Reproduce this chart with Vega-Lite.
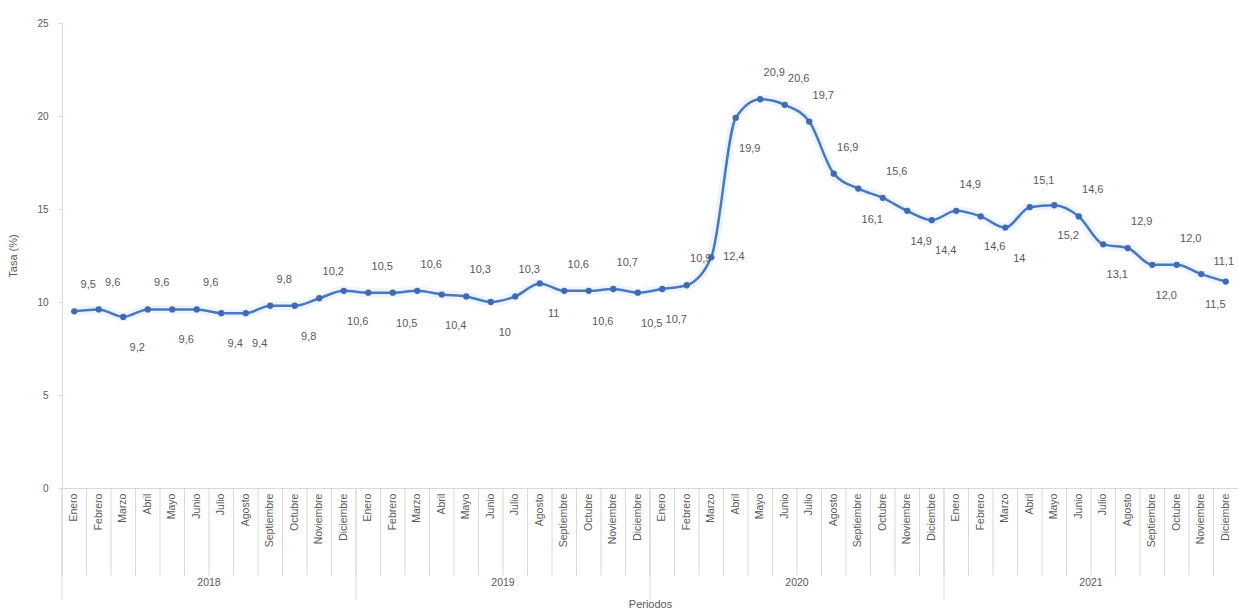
{
  "$schema": "https://vega.github.io/schema/vega-lite/v6.json",
  "width": 1176,
  "height": 465,
  "padding": {"left": 62, "top": 23, "right": 0, "bottom": 128},
  "autosize": {"type": "none"},
  "background": "white",
  "config": {
    "view": {"stroke": null},
    "font": "Liberation Sans",
    "axis": {"labelColor": "#595959", "titleColor": "#595959", "titleFontWeight": "normal", "labelFontSize": 10, "titleFontSize": 11}
  },
  "data": {
    "values": [
      {"periodo": "2018-01", "anio": "2018", "mes": "Enero", "lado": "arriba", "tasa": 9.5, "etiqueta": "9,5"},
      {"periodo": "2018-02", "anio": "2018", "mes": "Febrero", "lado": "arriba", "tasa": 9.6, "etiqueta": "9,6"},
      {"periodo": "2018-03", "anio": "2018", "mes": "Marzo", "lado": "abajo", "tasa": 9.2, "etiqueta": "9,2"},
      {"periodo": "2018-04", "anio": "2018", "mes": "Abril", "lado": "arriba", "tasa": 9.6, "etiqueta": "9,6"},
      {"periodo": "2018-05", "anio": "2018", "mes": "Mayo", "lado": "abajo", "tasa": 9.6, "etiqueta": "9,6"},
      {"periodo": "2018-06", "anio": "2018", "mes": "Junio", "lado": "arriba", "tasa": 9.6, "etiqueta": "9,6"},
      {"periodo": "2018-07", "anio": "2018", "mes": "Julio", "lado": "abajo", "tasa": 9.4, "etiqueta": "9,4"},
      {"periodo": "2018-08", "anio": "2018", "mes": "Agosto", "lado": "abajo", "tasa": 9.4, "etiqueta": "9,4"},
      {"periodo": "2018-09", "anio": "2018", "mes": "Septiembre", "lado": "arriba", "tasa": 9.8, "etiqueta": "9,8"},
      {"periodo": "2018-10", "anio": "2018", "mes": "Octubre", "lado": "abajo", "tasa": 9.8, "etiqueta": "9,8"},
      {"periodo": "2018-11", "anio": "2018", "mes": "Noviembre", "lado": "arriba", "tasa": 10.2, "etiqueta": "10,2"},
      {"periodo": "2018-12", "anio": "2018", "mes": "Diciembre", "lado": "abajo", "tasa": 10.6, "etiqueta": "10,6"},
      {"periodo": "2019-01", "anio": "2019", "mes": "Enero", "lado": "arriba", "tasa": 10.5, "etiqueta": "10,5"},
      {"periodo": "2019-02", "anio": "2019", "mes": "Febrero", "lado": "abajo", "tasa": 10.5, "etiqueta": "10,5"},
      {"periodo": "2019-03", "anio": "2019", "mes": "Marzo", "lado": "arriba", "tasa": 10.6, "etiqueta": "10,6"},
      {"periodo": "2019-04", "anio": "2019", "mes": "Abril", "lado": "abajo", "tasa": 10.4, "etiqueta": "10,4"},
      {"periodo": "2019-05", "anio": "2019", "mes": "Mayo", "lado": "arriba", "tasa": 10.3, "etiqueta": "10,3"},
      {"periodo": "2019-06", "anio": "2019", "mes": "Junio", "lado": "abajo", "tasa": 10.0, "etiqueta": "10"},
      {"periodo": "2019-07", "anio": "2019", "mes": "Julio", "lado": "arriba", "tasa": 10.3, "etiqueta": "10,3"},
      {"periodo": "2019-08", "anio": "2019", "mes": "Agosto", "lado": "abajo", "tasa": 11.0, "etiqueta": "11"},
      {"periodo": "2019-09", "anio": "2019", "mes": "Septiembre", "lado": "arriba", "tasa": 10.6, "etiqueta": "10,6"},
      {"periodo": "2019-10", "anio": "2019", "mes": "Octubre", "lado": "abajo", "tasa": 10.6, "etiqueta": "10,6"},
      {"periodo": "2019-11", "anio": "2019", "mes": "Noviembre", "lado": "arriba", "tasa": 10.7, "etiqueta": "10,7"},
      {"periodo": "2019-12", "anio": "2019", "mes": "Diciembre", "lado": "abajo", "tasa": 10.5, "etiqueta": "10,5"},
      {"periodo": "2020-01", "anio": "2020", "mes": "Enero", "lado": "abajo", "tasa": 10.7, "etiqueta": "10,7"},
      {"periodo": "2020-02", "anio": "2020", "mes": "Febrero", "lado": "arriba", "tasa": 10.9, "etiqueta": "10,9"},
      {"periodo": "2020-03", "anio": "2020", "mes": "Marzo", "lado": "derecha", "tasa": 12.4, "etiqueta": "12,4"},
      {"periodo": "2020-04", "anio": "2020", "mes": "Abril", "lado": "abajo", "tasa": 19.9, "etiqueta": "19,9"},
      {"periodo": "2020-05", "anio": "2020", "mes": "Mayo", "lado": "arriba", "tasa": 20.9, "etiqueta": "20,9"},
      {"periodo": "2020-06", "anio": "2020", "mes": "Junio", "lado": "arriba", "tasa": 20.6, "etiqueta": "20,6"},
      {"periodo": "2020-07", "anio": "2020", "mes": "Julio", "lado": "arriba", "tasa": 19.7, "etiqueta": "19,7"},
      {"periodo": "2020-08", "anio": "2020", "mes": "Agosto", "lado": "arriba", "tasa": 16.9, "etiqueta": "16,9"},
      {"periodo": "2020-09", "anio": "2020", "mes": "Septiembre", "lado": "abajo", "tasa": 16.1, "etiqueta": "16,1"},
      {"periodo": "2020-10", "anio": "2020", "mes": "Octubre", "lado": "arriba", "tasa": 15.6, "etiqueta": "15,6"},
      {"periodo": "2020-11", "anio": "2020", "mes": "Noviembre", "lado": "abajo", "tasa": 14.9, "etiqueta": "14,9"},
      {"periodo": "2020-12", "anio": "2020", "mes": "Diciembre", "lado": "abajo", "tasa": 14.4, "etiqueta": "14,4"},
      {"periodo": "2021-01", "anio": "2021", "mes": "Enero", "lado": "arriba", "tasa": 14.9, "etiqueta": "14,9"},
      {"periodo": "2021-02", "anio": "2021", "mes": "Febrero", "lado": "abajo", "tasa": 14.6, "etiqueta": "14,6"},
      {"periodo": "2021-03", "anio": "2021", "mes": "Marzo", "lado": "abajo", "tasa": 14.0, "etiqueta": "14"},
      {"periodo": "2021-04", "anio": "2021", "mes": "Abril", "lado": "arriba", "tasa": 15.1, "etiqueta": "15,1"},
      {"periodo": "2021-05", "anio": "2021", "mes": "Mayo", "lado": "abajo", "tasa": 15.2, "etiqueta": "15,2"},
      {"periodo": "2021-06", "anio": "2021", "mes": "Junio", "lado": "arriba", "tasa": 14.6, "etiqueta": "14,6"},
      {"periodo": "2021-07", "anio": "2021", "mes": "Julio", "lado": "abajo", "tasa": 13.1, "etiqueta": "13,1"},
      {"periodo": "2021-08", "anio": "2021", "mes": "Agosto", "lado": "arriba", "tasa": 12.9, "etiqueta": "12,9"},
      {"periodo": "2021-09", "anio": "2021", "mes": "Septiembre", "lado": "abajo", "tasa": 12.0, "etiqueta": "12,0"},
      {"periodo": "2021-10", "anio": "2021", "mes": "Octubre", "lado": "arriba", "tasa": 12.0, "etiqueta": "12,0"},
      {"periodo": "2021-11", "anio": "2021", "mes": "Noviembre", "lado": "abajo", "tasa": 11.5, "etiqueta": "11,5"},
      {"periodo": "2021-12", "anio": "2021", "mes": "Diciembre", "lado": "encima", "tasa": 11.1, "etiqueta": "11,1"}
    ]
  },
  "encoding": {
    "x": {
      "field": "periodo",
      "type": "ordinal",
      "sort": null,
      "scale": {"type": "band", "paddingInner": 0, "paddingOuter": 0},
      "axis": {
        "title": "Periodos",
        "titlePadding": 110,
        "labels": false,
        "ticks": false,
        "domainColor": "#d9d9d9"
      }
    },
    "y": {
      "field": "tasa",
      "type": "quantitative",
      "scale": {"domain": [0, 25], "nice": false, "zero": false},
      "axis": {
        "title": "Tasa (%)",
        "tickCount": 5,
        "grid": false,
        "tickSize": 4,
        "tickColor": "#d9d9d9",
        "domainColor": "#d9d9d9",
        "labelPadding": 10,
        "titlePadding": 18
      }
    }
  },
  "layer": [
    {
      "mark": {"type": "rule", "color": "#d9d9d9", "strokeWidth": 1},
      "encoding": {
        "x": {"field": "periodo", "type": "ordinal", "bandPosition": 0},
        "y": {"datum": 0},
        "y2": {"datum": -4.7}
      }
    },
    {
      "transform": [{"filter": "datum.mes == 'Enero'"}],
      "mark": {"type": "rule", "color": "#d9d9d9", "strokeWidth": 1},
      "encoding": {
        "x": {"field": "periodo", "type": "ordinal", "bandPosition": 0},
        "y": {"datum": 0},
        "y2": {"datum": -6}
      }
    },
    {
      "mark": {"type": "text", "angle": 270, "align": "right", "baseline": "middle", "color": "#595959", "fontSize": 10.5},
      "encoding": {
        "y": {"datum": -0.3},
        "text": {"field": "mes"}
      }
    },
    {
      "transform": [{"filter": "datum.mes == 'Julio'"}],
      "mark": {"type": "text", "color": "#595959", "fontSize": 10.5, "baseline": "middle"},
      "encoding": {
        "x": {"field": "periodo", "type": "ordinal", "bandPosition": 0},
        "y": {"datum": -5.1},
        "text": {"field": "anio"}
      }
    },
    {
      "mark": {"type": "line", "interpolate": "monotone", "color": "#9dc3e6", "strokeWidth": 9, "opacity": 0.18}
    },
    {
      "mark": {"type": "line", "interpolate": "monotone", "color": "#4a78c2", "strokeWidth": 2.5}
    },
    {
      "mark": {"type": "point", "filled": true, "color": "#3e6bb4", "size": 40, "opacity": 1}
    },
    {
      "transform": [{"filter": "datum.lado == 'arriba'"}],
      "mark": {"type": "text", "color": "#595959", "fontSize": 11, "dx": 14, "dy": -26},
      "encoding": {"text": {"field": "etiqueta"}}
    },
    {
      "transform": [{"filter": "datum.lado == 'encima'"}],
      "mark": {"type": "text", "color": "#595959", "fontSize": 11, "dx": -2, "dy": -20},
      "encoding": {"text": {"field": "etiqueta"}}
    },
    {
      "transform": [{"filter": "datum.lado == 'abajo'"}],
      "mark": {"type": "text", "color": "#595959", "fontSize": 11, "dx": 14, "dy": 31},
      "encoding": {"text": {"field": "etiqueta"}}
    },
    {
      "transform": [{"filter": "datum.lado == 'derecha'"}],
      "mark": {"type": "text", "color": "#595959", "fontSize": 11, "align": "left", "dx": 12, "dy": 0},
      "encoding": {"text": {"field": "etiqueta"}}
    }
  ]
}
